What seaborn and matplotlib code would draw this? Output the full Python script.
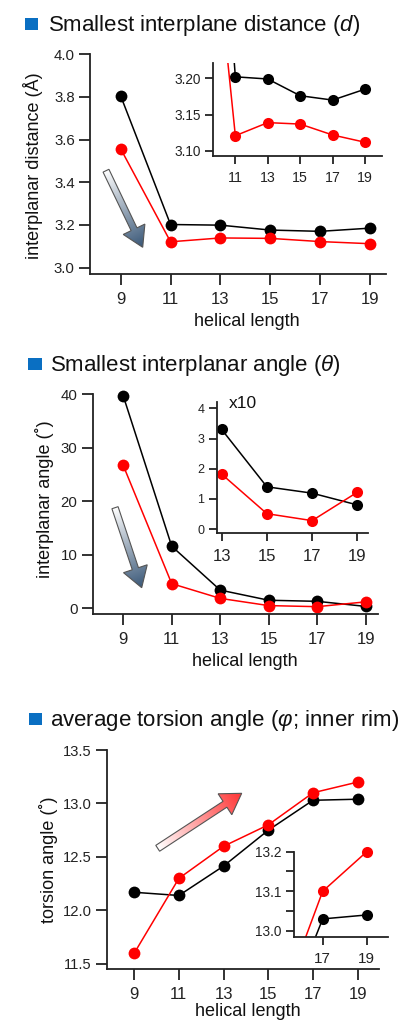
import numpy as np
import pandas as pd
import matplotlib
matplotlib.use("Agg")
import matplotlib.pyplot as plt
import seaborn as sns
from matplotlib.patches import Polygon, Rectangle
from matplotlib.colors import LinearSegmentedColormap

# ---------------- data ----------------
helical_length = [9, 11, 13, 15, 17, 19]

dist_black = [3.805, 3.202, 3.199, 3.176, 3.170, 3.185]
dist_red = [3.557, 3.121, 3.139, 3.137, 3.122, 3.112]

angle_black = [39.7, 11.6, 3.4, 1.5, 1.3, 0.35]
angle_red = [26.7, 4.6, 1.85, 0.5, 0.3, 1.2]

inset_angle_length = [13, 15, 17, 19]
inset_angle_black = [3.30, 1.40, 1.19, 0.80]
inset_angle_red = [1.82, 0.51, 0.28, 1.22]

torsion_black = [12.17, 12.14, 12.415, 12.75, 13.03, 13.04]
torsion_red = [11.60, 12.30, 12.60, 12.80, 13.10, 13.20]

titles = ["Smallest interplane distance ($\\mathit{d}$)",
          "Smallest interplanar angle ($\\theta$)",
          "average torsion angle ($\\varphi$; inner rim)"]
ylabels = ["interplanar distance (Å)", "interplanar angle (˚)", "torsion angle (˚)"]
xlabel = "helical length"

# ---------------- style ----------------
sns.set_style("ticks")
plt.rcParams["font.family"] = ["Liberation Sans", "DejaVu Sans"]
plt.rcParams["mathtext.fontset"] = "custom"
plt.rcParams["mathtext.rm"] = "Liberation Sans"
plt.rcParams["mathtext.it"] = "Liberation Sans:italic"
plt.rcParams["mathtext.sf"] = "Liberation Sans"

W, H = 401, 1022
fig = plt.figure(figsize=(W / 100, H / 100), dpi=100)
fig.patch.set_facecolor("white")
AX_COLOR = "#222222"


def add_ax(l, t, r, b):
    return fig.add_axes([l / W, 1 - b / H, (r - l) / W, (b - t) / H])


def draw(ax, x, yb, yr, clip, ms=8.5):
    df = pd.DataFrame({"x": list(x) * 2,
                       "y": list(yb) + list(yr),
                       "s": ["black"] * len(x) + ["red"] * len(x)})
    sns.lineplot(data=df, x="x", y="y", hue="s",
                 palette={"black": "black", "red": "#ff0000"},
                 marker="o", markersize=ms, markeredgewidth=0,
                 linewidth=1.1, legend=False, ax=ax, sort=False,
                 errorbar=None, clip_on=clip)


def style(ax, xticks, yticks, ytl, xfs, yfs, xlim, ylim, length=6):
    sns.despine(ax=ax)
    for s in ["left", "bottom"]:
        ax.spines[s].set_linewidth(1.3)
        ax.spines[s].set_color(AX_COLOR)
    ax.set_xlim(*xlim)
    ax.set_ylim(*ylim)
    ax.set_xticks(xticks)
    ax.set_xticklabels([str(v) for v in xticks])
    ax.set_yticks(yticks)
    ax.set_yticklabels(ytl)
    ax.tick_params(direction="out", length=length, width=1.3,
                   color=AX_COLOR, labelcolor=AX_COLOR)
    ax.tick_params(axis="x", labelsize=xfs, pad=5)
    ax.tick_params(axis="y", labelsize=yfs, pad=3)
    ax.set_xlabel("")
    ax.set_ylabel("")
    ax.patch.set_alpha(0)
    ax.grid(False)


# ---------------- panel 1 ----------------
ax1 = add_ax(90, 54.3, 386, 274)
draw(ax1, helical_length, dist_black, dist_red, False)
style(ax1, helical_length, [3.0, 3.2, 3.4, 3.6, 3.8, 4.0],
      ["3.0", "3.2", "3.4", "3.6", "3.8", "4.0"], 12, 10.8,
      (7.77, 19.64), (2.97, 4.0), length=8)

ax1i = add_ax(213.3, 63, 381.7, 155.7)
draw(ax1i, helical_length, dist_black, dist_red, True, ms=8)
style(ax1i, [11, 13, 15, 17, 19], [3.10, 3.15, 3.20],
      ["3.10", "3.15", "3.20"], 10.2, 9.8, (9.64, 20.03), (3.0935, 3.221))

# ---------------- panel 2 ----------------
ax2 = add_ax(92.7, 394.3, 378, 614)
draw(ax2, helical_length, angle_black, angle_red, False)
style(ax2, helical_length, [0, 10, 20, 30, 40],
      ["0", "10", "20", "30", "40"], 12, 10.8,
      (7.74, 19.51), (-1.07, 40), length=8)

ax2i = add_ax(216.7, 401.7, 367.7, 533.3)
draw(ax2i, inset_angle_length, inset_angle_black, inset_angle_red, False, ms=8)
style(ax2i, [13, 15, 17, 19], [0, 1, 2, 3, 4],
      ["0", "1", "2", "3", "4"], 12, 9, (12.78, 19.46), (-0.14, 4.22))
ax2i.text(0.08, 0.985, "x10", transform=ax2i.transAxes, fontsize=12.5,
          ha="left", va="center", color="#111111")

# ---------------- panel 3 ----------------
ax3 = add_ax(106.7, 750, 379.3, 969.3)
draw(ax3, helical_length, torsion_black, torsion_red, False)
style(ax3, helical_length, [11.5, 12.0, 12.5, 13.0, 13.5],
      ["11.5", "12.0", "12.5", "13.0", "13.5"], 12, 10.6,
      (7.77, 19.97), (11.45, 13.5), length=8)

ax3i = add_ax(294.3, 843.7, 388.3, 936.7)
draw(ax3i, helical_length, torsion_black, torsion_red, True, ms=8)
style(ax3i, [17, 19], [13.0, 13.05, 13.1, 13.15, 13.2],
      ["13.0", "", "13.1", "", "13.2"], 11, 9.8,
      (15.71, 19.98), (12.985, 13.2203))
ax3i.spines["left"].set_bounds(12.985, 13.2)
for ln in ax3i.lines:
    ln.set_clip_on(True)

# ---------------- overlay: titles, labels, arrows ----------------
ov = fig.add_axes([0, 0, 1, 1], zorder=10)
ov.set_xlim(0, W)
ov.set_ylim(H, 0)
ov.axis("off")
ov.patch.set_alpha(0)

BLUE = "#0a6fc2"
for (sx, sy, sw, sh), (tx, ty), txt in zip(
        [(25, 18, 13, 12), (28, 358, 13.5, 12), (29, 713, 13, 12.5)],
        [(48, 30.7), (50, 370.7), (50, 725.7)], titles):
    ov.add_patch(Rectangle((sx, sy), sw, sh, color=BLUE, lw=0))
    ov.text(tx, ty, txt, fontsize=16, ha="left", va="baseline", color="#111111")

for (cx, cy), lab in zip([(33, 166), (45, 499), (48, 860)], ylabels):
    ov.text(cx, cy, lab, fontsize=13, rotation=90, ha="center", va="center",
            color="#111111")

for cx, by in [(246.7, 326), (245, 666), (248, 1016.5)]:
    ov.text(cx, by, xlabel, fontsize=13, ha="center", va="baseline",
            color="#111111")


def grad_arrow(tail, tip, w, hw, hl, c0, c1):
    x0, y0 = tail
    x1, y1 = tip
    L = np.hypot(x1 - x0, y1 - y0)
    ux, uy = (x1 - x0) / L, (y1 - y0) / L
    nx, ny = -uy, ux
    neck = (x1 - ux * hl, y1 - uy * hl)
    pts = [(x0 + nx * w / 2, y0 + ny * w / 2),
           (neck[0] + nx * w / 2, neck[1] + ny * w / 2),
           (neck[0] + nx * hw / 2, neck[1] + ny * hw / 2),
           (x1, y1),
           (neck[0] - nx * hw / 2, neck[1] - ny * hw / 2),
           (neck[0] - nx * w / 2, neck[1] - ny * w / 2),
           (x0 - nx * w / 2, y0 - ny * w / 2)]
    poly = Polygon(pts, closed=True, facecolor="none", edgecolor="#555555",
                   lw=0.8, zorder=3)
    xs_ = [p[0] for p in pts]
    ys_ = [p[1] for p in pts]
    xmin, xmax, ymin, ymax = min(xs_), max(xs_), min(ys_), max(ys_)
    gx = np.linspace(xmin, xmax, 120)
    gy = np.linspace(ymin, ymax, 120)
    GX, GY = np.meshgrid(gx, gy)
    val = ((GX - x0) * ux + (GY - y0) * uy) / L
    cmap = LinearSegmentedColormap.from_list("g", [c0, c1])
    im = ov.imshow(val, extent=(xmin, xmax, ymin, ymax), origin="lower",
                   cmap=cmap, vmin=0, vmax=1, aspect="auto", zorder=2,
                   interpolation="bilinear")
    ov.add_patch(poly)
    clip = Polygon(pts, closed=True, transform=ov.transData)
    im.set_clip_path(clip)


grad_arrow((106, 170.7), (142.7, 247.3), 6.5, 24, 20, "#ffffff", "#3a5878")
grad_arrow((115, 507.7), (141.7, 587.7), 6.5, 25, 20, "#ffffff", "#3a5878")
grad_arrow((157.7, 848.3), (241.7, 793.3), 7, 25, 20, "#ffffff", "#ff3535")

ov.set_xlim(0, W)
ov.set_ylim(H, 0)

fig.savefig("out.png", dpi=100, facecolor="white")
